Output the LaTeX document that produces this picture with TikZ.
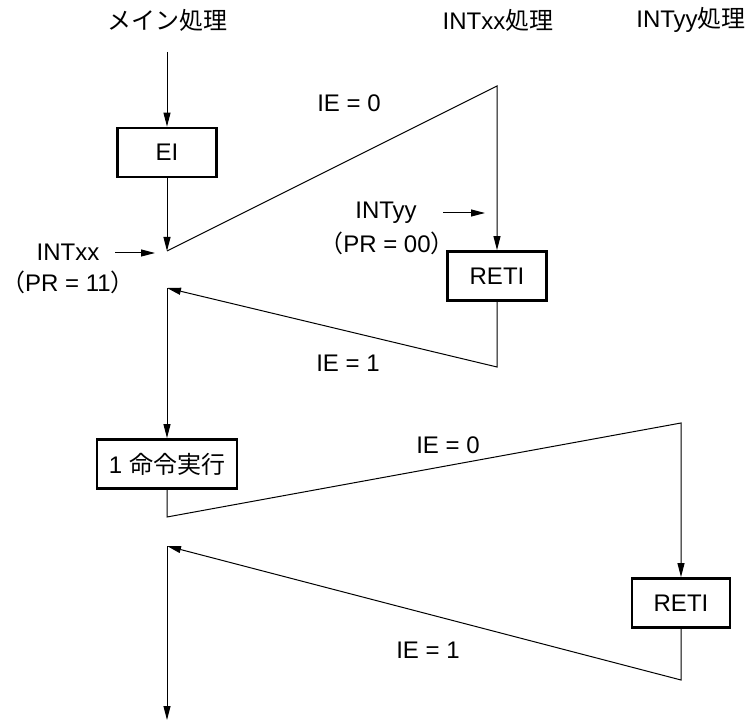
\documentclass[tikz,border=0pt]{standalone}
\usepackage{fontspec}
\setmainfont{Liberation Sans}
\newfontfamily\jp{Noto Sans CJK JP}
\usetikzlibrary{arrows.meta}
\tikzset{
  flowline/.style={line width=1pt, -{Triangle[length=14pt,width=7pt]}},
  plainline/.style={line width=1pt},
  procbox/.style={draw, line width=2.8pt, inner sep=0pt, minimum height=49pt, font=\fontsize{24}{28}\selectfont},
  lbl/.style={inner sep=0pt, font=\fontsize{24}{28}\selectfont},
}
\begin{document}
\begin{tikzpicture}[x=1pt,y=-1pt]
\useasboundingbox (0,0) rectangle (753,722);
% titles
\node[lbl] (t1) at (167,20) {\jp メイン処理};
\node[lbl] (t2) at (498,20) {INTxx{\jp 処理}};
\node[lbl] (t3) at (691,20) {INTyy{\jp 処理}};
% boxes
\node[procbox, minimum width=99pt] (ei) at (167,152.5) {EI};
\node[procbox, minimum width=99pt] (reti1) at (497,276) {RETI};
\node[procbox, minimum width=140pt] (cmd) at (167,464) {1 {\jp 命令実行}};
\node[procbox, minimum width=98pt] (reti2) at (681,603) {RETI};
% coordinates
\coordinate (m0) at (167,52);
\coordinate (a) at (167,251);
\coordinate (b) at (497,86);
\coordinate (c) at (497,367);
\coordinate (d) at (167,288);
\coordinate (e) at (167,517);
\coordinate (f) at (681,423);
\coordinate (g) at (681,680);
\coordinate (h) at (167,546);
\coordinate (z) at (167,720);
% labels
\node[lbl] (ie0a) at (349,103) {IE = 0};
\node[lbl] (ie1a) at (348,363) {IE = 1};
\node[lbl] (ie0b) at (448,445) {IE = 0};
\node[lbl] (ie1b) at (428,650) {IE = 1};
\node[lbl] (intxx) at (68,252) {INTxx};
\node[lbl] (pr11) at (68,282) {{\jp （}PR = 11{\jp ）}};
\node[lbl] (intyy) at (386,213) {INTyy};
\node[lbl] (pr00) at (387,243) {{\jp （}PR = 00{\jp ）}};
\coordinate (ix1) at (115,253);
\coordinate (ix2) at (155,253);
\coordinate (iy1) at (443,213);
\coordinate (iy2) at (485,213);
% connectors
\draw[flowline] (m0) -- (ei.north);
\draw[flowline] (ei.south) -- (a);
\draw[flowline] (a) -- (b) -- (reti1.north);
\draw[flowline] (reti1.south) -- (c) -- (d);
\draw[flowline] (d) -- (cmd.north);
\draw[flowline] (cmd.south) -- (e) -- (f) -- (reti2.north);
\draw[flowline] (reti2.south) -- (g) -- (h);
\draw[flowline] (h) -- (z);
\draw[flowline] (ix1) -- (ix2);
\draw[flowline] (iy1) -- (iy2);
\end{tikzpicture}
\end{document}
